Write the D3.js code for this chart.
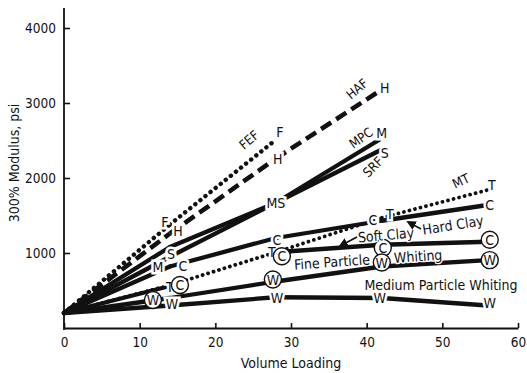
<!DOCTYPE html>
<html><head><meta charset="utf-8">
<script src="https://cdn.jsdelivr.net/npm/d3@7"></script>
<style>
html,body{margin:0;padding:0;background:#fff;}
svg{display:block;}
text{font-family:"DejaVu Sans Condensed","Liberation Sans Narrow","DejaVu Sans",sans-serif;fill:#111;}
</style></head><body>
<svg id="chart" width="527" height="373"></svg>
<script>
// Volume loadings at which the compounds were tested
const loadings = [0, 14, 28, 42, 56];

// 300% modulus (psi) per filler
const fef           = [200, 1380, 2510];
const haf           = [200, 1260, 2260, 3180];
const mpc           = [200, 1080, 1670, 2530];
const srf           = [200, 950, 1670, 2380];
const mt            = [200, 570, 1010, 1470, 1840];
const hardClay      = [200, 820, 1200, 1430, 1640];
const softClay      = [200, 560, 1010, 1110, 1150];
const fineWhiting   = [200, 400, 620, 820, 905];
const mediumWhiting = [200, 300, 410, 400, 300];

const xTicks = [0, 10, 20, 30, 40, 50, 60];
const yTicks = [1000, 2000, 3000, 4000];

// hidden: segment indices left undrawn because another curve runs over them
const series = [
  {key: "fef", values: fef, style: "dotBig"},
  {key: "haf", values: haf, style: "dash"},
  {key: "mpc", values: mpc, style: "solid"},
  {key: "srf", values: srf, style: "solid"},
  {key: "mt", values: mt, style: "dotSmall"},
  {key: "hardClay", values: hardClay, style: "solid"},
  {key: "softClay", values: softClay, style: "solid", hidden: [1]},
  {key: "fineWhiting", values: fineWhiting, style: "solid"},
  {key: "mediumWhiting", values: mediumWhiting, style: "solid"}
];

const styles = {
  solid:    {width: 4.3, dash: null, cap: "round"},
  dash:     {width: 4.6, dash: "12,6", cap: "butt"},
  dotBig:   {width: 4.4, dash: "0.1,6.4", cap: "round"},
  dotSmall: {width: 3.8, dash: "0.1,5.6", cap: "round"}
};

// Point letters: [series, point index, text, circled, dx, dy]
const pointLabels = [
  ["fef", 1, "F", false, -5, -3],
  ["fef", 2, "F", false, 4, -8],
  ["haf", 1, "H", false, 8, -3],
  ["haf", 2, "H", false, 2, 0],
  ["haf", 3, "H", false, 3, -2],
  ["mpc", 1, "M", false, -12, 20],
  ["mpc", 2, "MS", false, 0, 0],
  ["mpc", 3, "M", false, 0, -5],
  ["srf", 1, "S", false, 1, -3],
  ["srf", 3, "S", false, 3, 3],
  ["mt", 1, "T", false, 0, 2],
  ["mt", 2, "T", false, -4, 0],
  ["mt", 3, "T", false, 8, -4],
  ["mt", 4, "T", false, 4, -5],
  ["hardClay", 1, "C", false, 13, -1],
  ["hardClay", 2, "C", false, 1, 2],
  ["hardClay", 3, "C", false, -9, -1],
  ["hardClay", 4, "C", false, 2, 0],
  ["softClay", 1, "C", true, 10, -1],
  ["softClay", 2, "C", true, 6, 4],
  ["softClay", 3, "C", true, 1, 3],
  ["softClay", 4, "C", true, 2, -2],
  ["fineWhiting", 1, "W", true, -17, 2],
  ["fineWhiting", 2, "W", true, -3, -2],
  ["fineWhiting", 3, "W", true, 0, -4],
  ["fineWhiting", 4, "W", true, 2, 0],
  ["mediumWhiting", 1, "W", false, 2, -2],
  ["mediumWhiting", 2, "W", false, 1, 1],
  ["mediumWhiting", 3, "W", false, -2, 0],
  ["mediumWhiting", 4, "W", false, 2, -3]
];

// Filler names written along the curves: [text, x, y, rotation]
const curveNames = [
  ["FEF", 249, 140, -40],
  ["HAF", 357, 89, -40],
  ["MPC", 361, 138, -35],
  ["SRF", 373, 167, -45],
  ["MT", 461, 181, -25]
];

const svg = d3.select("#chart");
const x = d3.scaleLinear().domain([0, 60]).range([64, 518]);
const y = d3.scaleLinear().domain([0, 4000]).range([328, 28]);
const ink = "#111";

// axes
const yAxis = svg.append("g").attr("transform", `translate(${x(0)},0)`)
  .call(d3.axisLeft(y).tickValues(yTicks).tickFormat(d3.format("d"))
    .tickSizeInner(-6).tickSizeOuter(0).tickPadding(8));
yAxis.select(".domain").remove();
yAxis.selectAll("line").attr("stroke", ink).attr("stroke-width", 1.6);
yAxis.selectAll("text").attr("font-size", 13.5).attr("fill", ink).attr("dy", "0.35em");
svg.append("line").attr("x1", x(0)).attr("x2", x(0)).attr("y1", y(0) + 2).attr("y2", 8)
  .attr("stroke", ink).attr("stroke-width", 1.8);

const xAxis = svg.append("g").attr("transform", `translate(0,${y(0)})`)
  .call(d3.axisBottom(x).tickValues(xTicks).tickSizeInner(-5).tickSizeOuter(0).tickPadding(9));
xAxis.select(".domain").attr("stroke", ink).attr("stroke-width", 1.8);
xAxis.selectAll("line").attr("stroke", ink).attr("stroke-width", 1.6);
xAxis.selectAll("text").attr("font-size", 13.5).attr("fill", ink);

svg.append("text").attr("transform", `translate(19,${y(2200)}) rotate(-90)`)
  .attr("text-anchor", "middle").attr("font-size", 14).text("300% Modulus, psi");
svg.append("text").attr("x", x(30)).attr("y", 368).attr("text-anchor", "middle")
  .attr("font-size", 14).text("Volume Loading");

// curves, drawn segment by segment
const line = d3.line().x(d => x(d[0])).y(d => y(d[1]));
const byKey = {};
series.forEach(s => {
  byKey[s.key] = s;
  const st = styles[s.style];
  const pts = s.values.map((v, i) => [loadings[i], v]);
  const segs = d3.pairs(pts).filter((p, i) => !(s.hidden || []).includes(i));
  svg.append("g").selectAll("path").data(segs).join("path")
    .attr("d", line)
    .attr("fill", "none")
    .attr("stroke", ink)
    .attr("stroke-width", st.width)
    .attr("stroke-linecap", st.cap)
    .attr("stroke-dasharray", st.dash);
});

// point letters
pointLabels.forEach(([k, i, t, circled, dx, dy]) => {
  const s = byKey[k];
  const cx = x(loadings[i]) + dx, cy = y(s.values[i]) + dy;
  if (circled) {
    svg.append("circle").attr("cx", cx).attr("cy", cy).attr("r", 8.5)
      .attr("fill", "#fff").attr("stroke", ink).attr("stroke-width", 1.4);
    svg.append("text").attr("x", cx).attr("y", cy).attr("text-anchor", "middle")
      .attr("dominant-baseline", "central").attr("font-size", 14).text(t);
  } else {
    svg.append("text").attr("x", cx).attr("y", cy).attr("text-anchor", "middle")
      .attr("dominant-baseline", "central").attr("font-size", 14)
      .attr("stroke", "#fff").attr("stroke-width", 5).attr("paint-order", "stroke")
      .text(t);
  }
});

// clay and whiting captions
function caption(t, tx, ty, r, anchor) {
  svg.append("text").attr("transform", `translate(${tx},${ty}) rotate(${r})`)
    .attr("text-anchor", anchor || "middle").attr("dominant-baseline", "central")
    .attr("font-size", 14).attr("stroke", "#fff").attr("stroke-width", 2.5)
    .attr("paint-order", "stroke").text(t);
}
caption("Soft Clay", 386, 235, -5);
caption("Hard Clay", 453, 225, -9);
caption("Fine Particle", 332, 262, -4);
caption("Whiting", 394, 258, -4, "start");
caption("Medium Particle Whiting", 441, 285, 0);

curveNames.forEach(([t, tx, ty, r]) => {
  svg.append("text").attr("transform", `translate(${tx},${ty}) rotate(${r})`)
    .attr("text-anchor", "middle").attr("dominant-baseline", "central")
    .attr("font-size", 13).text(t);
});

// arrows pointing from the clay captions to their curves
const defs = svg.append("defs");
defs.append("marker").attr("id", "head").attr("viewBox", "0 0 10 10")
  .attr("refX", 8).attr("refY", 5).attr("markerWidth", 6).attr("markerHeight", 6)
  .attr("orient", "auto").append("path").attr("d", "M0,0L10,5L0,10z").attr("fill", ink);
[[357, 237, 340, 246], [421, 229, 408, 222]].forEach(([a, b, c, d]) => {
  svg.append("line").attr("x1", a).attr("y1", b).attr("x2", c).attr("y2", d)
    .attr("stroke", ink).attr("stroke-width", 1.6).attr("marker-end", "url(#head)");
});
</script>
</body></html>
